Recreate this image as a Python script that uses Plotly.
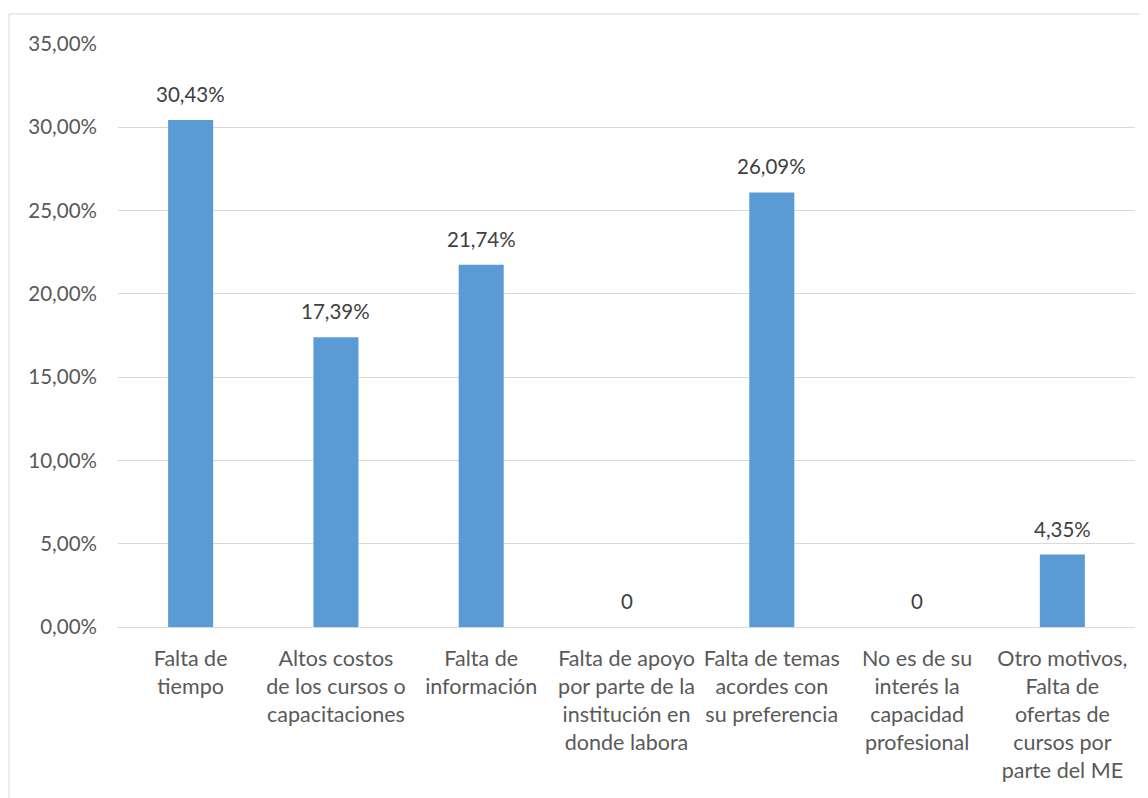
import plotly.graph_objects as go

categories = [
    "Falta de<br>tiempo",
    "Altos costos<br>de los cursos o<br>capacitaciones",
    "Falta de<br>información",
    "Falta de apoyo<br>por parte de la<br>institución en<br>donde labora",
    "Falta de temas<br>acordes con<br>su preferencia",
    "No es de su<br>interés la<br>capacidad<br>profesional",
    "Otro motivos,<br>Falta de<br>ofertas de<br>cursos por<br>parte del ME",
]
values = [0.3043, 0.1739, 0.2174, 0.0, 0.2609, 0.0, 0.0435]
labels = ["30,43%", "17,39%", "21,74%", "0", "26,09%", "0", "4,35%"]

FONT = "Lato, 'Open Sans', sans-serif"
TXT = "#595959"

fig = go.Figure()
fig.add_trace(go.Bar(
    x=categories, y=values,
    marker=dict(color="#5B9BD5", line=dict(width=0)),
    hoverinfo="skip",
))

for c, v, t in zip(categories, values, labels):
    fig.add_annotation(x=c, y=v, text=t, showarrow=False, yanchor="bottom",
                       yshift=12, font=dict(family=FONT, size=20.5, color="#404040"))

fig.add_shape(type="rect", xref="paper", yref="paper",
              x0=-0.1072, x1=1.2, y0=-0.5, y1=1.0515,
              line=dict(color="#D9D9D9", width=1), fillcolor="rgba(0,0,0,0)", layer="below")

fig.update_layout(
    width=1140, height=790,
    margin=dict(l=110, r=13, t=36, b=171),
    paper_bgcolor="white", plot_bgcolor="white",
    bargap=0.69,
    showlegend=False,
    separators=",.",
    font=dict(family=FONT, size=20.5, color=TXT),
    xaxis=dict(showgrid=False, showline=True, linecolor="#D9D9D9", linewidth=1,
               tickangle=0, ticks="", tickfont=dict(family=FONT, size=21.5, color=TXT),
               ticklabelstandoff=12),
    yaxis=dict(range=[0, 0.35], dtick=0.05, tickformat=".2%", showgrid=True,
               gridcolor="#D9D9D9", gridwidth=1, zeroline=False, showline=False,
               ticks="", ticklabelstandoff=20,
               tickfont=dict(family=FONT, size=20.5, color=TXT)),
)

fig.write_html("out.html")
